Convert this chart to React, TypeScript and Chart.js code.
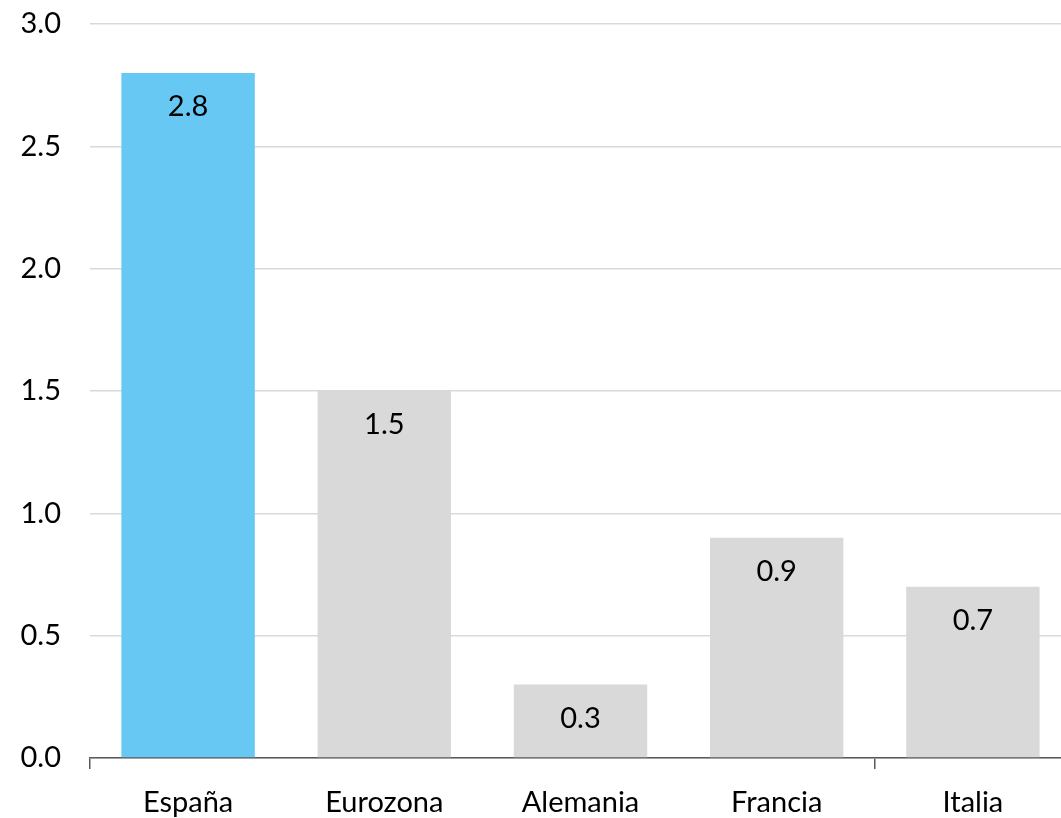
import React, { useEffect, useRef } from "react";
import { Chart, registerables } from "chart.js";

Chart.register(...registerables);

const categories = ["España", "Eurozona", "Alemania", "Francia", "Italia"];
const values = [2.8, 1.5, 0.3, 0.9, 0.7];
const barColors = ["#66C8F3", "#D9D9D9", "#D9D9D9", "#D9D9D9", "#D9D9D9"];
const yTicks = [0, 0.5, 1.0, 1.5, 2.0, 2.5, 3.0];

const FONT = "Lato, 'Open Sans', sans-serif";
const FONT_SIZE = 29;

// Writes each bar's value just below its top edge
const valueLabels = {
  id: "valueLabels",
  afterDatasetsDraw(chart: any) {
    const ctx = chart.ctx;
    const meta = chart.getDatasetMeta(0);
    ctx.save();
    ctx.font = `${FONT_SIZE}px ${FONT}`;
    ctx.fillStyle = "#000000";
    ctx.textAlign = "center";
    ctx.textBaseline = "middle";
    meta.data.forEach((bar: any, i: number) => {
      ctx.fillText(values[i].toFixed(1), bar.x, bar.y + 34);
    });
    ctx.restore();
  },
};

export default function App() {
  const canvasRef = useRef<HTMLCanvasElement | null>(null);

  useEffect(() => {
    if (!canvasRef.current) return;
    const chart = new Chart(canvasRef.current, {
      type: "bar",
      data: {
        labels: categories,
        datasets: [
          {
            data: values,
            backgroundColor: barColors,
            borderWidth: 0,
            barPercentage: 0.68,
            categoryPercentage: 1,
          },
        ],
      },
      plugins: [valueLabels],
      options: {
        responsive: false,
        animation: false,
        layout: { padding: { top: 24, right: 0, left: 0, bottom: 0 } },
        plugins: {
          legend: { display: false },
          tooltip: { enabled: false },
        },
        scales: {
          x: {
            offset: true,
            afterFit(scale: any) {
              scale.height = 60;
            },
            grid: {
              offset: true,
              drawOnChartArea: false,
              drawTicks: true,
              tickLength: 11,
              lineWidth: 1.5,
              color: (c: any) =>
                c.index === 0 || c.index === 4 ? "#595959" : "rgba(0,0,0,0)",
            },
            border: { display: true, color: "#595959", width: 1.5 },
            ticks: {
              color: "#000000",
              font: { family: FONT, size: FONT_SIZE },
              padding: 16,
              maxRotation: 0,
            },
          },
          y: {
            min: 0,
            max: 3,
            afterFit(scale: any) {
              scale.width = 90;
              scale.paddingTop = 0;
              scale.paddingBottom = 0;
            },
            afterBuildTicks(scale: any) {
              scale.ticks = yTicks.map((v) => ({ value: v }));
            },
            grid: {
              color: "#D9D9D9",
              lineWidth: 1.5,
              drawTicks: false,
            },
            border: { display: false },
            ticks: {
              color: "#000000",
              font: { family: FONT, size: FONT_SIZE },
              padding: 29,
              callback: (v: any) => Number(v).toFixed(1),
            },
          },
        },
      },
    });
    return () => chart.destroy();
  }, []);

  return (
    <div
      style={{
        position: "absolute",
        left: 0,
        top: 0,
        width: 1061,
        height: 818,
        overflow: "hidden",
        background: "#ffffff",
      }}
    >
      <canvas ref={canvasRef} width={1071} height={818} />
    </div>
  );
}
